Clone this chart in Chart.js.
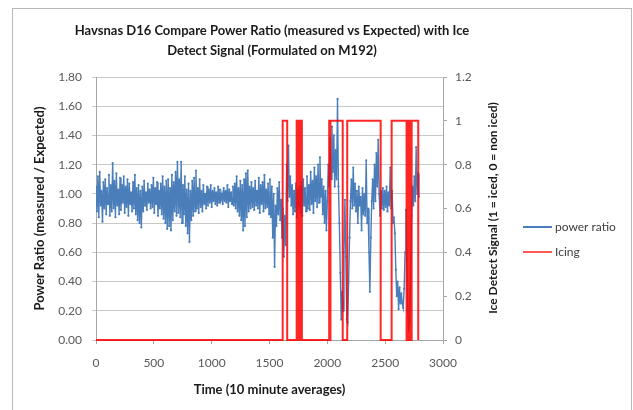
<!DOCTYPE html>
<html>
<head>
<meta charset="utf-8">
<script src="https://cdn.jsdelivr.net/npm/chart.js@4/dist/chart.umd.min.js"></script>
<style>
  html, body { margin: 0; padding: 0; background: #fff; }
  #frame { position: absolute; left: 12px; top: 8px; width: 620px; height: 420px; border: 1px solid #b8b8b8; box-sizing: border-box; }
  #c { position: absolute; left: 0; top: 0; }
</style>
</head>
<body>
<div id="frame"></div>
<canvas id="c" width="633" height="410"></canvas>
<script>
// ---- data ----
const chartTitle = ["Havsnas D16 Compare Power Ratio (measured vs Expected) with Ice", "Detect Signal (Formulated on M192)"];
const xAxisTitle = "Time (10 minute averages)";
const yAxisTitle = "Power Ratio (measured / Expected)";
const y2AxisTitle = "Ice Detect Signal (1 = iced, 0 = non iced)";
const seriesNames = ["power ratio", "Icing"];

// power ratio: one reading every 8 ten-minute samples
const sampleStep = 8;
const powerValues = [
  1.05,0.88,1.12,0.84,1.15,0.92,1.02,0.81,1.08,0.90,
  1.10,0.86,1.04,0.93,1.13,0.85,1.06,0.88,1.21,0.90,
  1.09,0.84,1.14,0.92,1.03,0.86,1.11,0.89,1.06,0.94,
  1.12,0.87,1.05,0.91,1.10,0.85,1.07,0.93,1.01,0.88,
  1.08,0.90,1.13,0.86,1.04,0.82,1.06,0.80,1.02,0.77,
  1.05,0.88,1.09,0.92,1.01,0.89,1.07,0.94,1.03,0.90,
  1.06,0.91,1.11,0.87,1.04,0.93,1.08,0.85,1.02,0.90,
  1.07,0.86,1.12,0.83,1.05,0.80,1.09,0.76,1.10,0.78,
  1.04,0.75,1.13,0.82,1.08,0.88,1.15,0.85,1.22,0.87,
  1.10,0.84,1.22,0.80,1.06,0.86,1.12,0.78,1.03,0.73,
  1.07,0.67,1.02,0.82,1.09,0.85,1.11,0.88,1.16,0.90,
  1.04,0.87,1.10,0.91,1.02,0.88,1.06,0.93,1.00,0.90,
  1.05,0.92,1.03,0.94,1.06,0.91,1.02,0.95,1.04,0.93,
  1.01,0.92,1.05,0.94,1.03,0.96,1.00,0.93,1.04,0.95,
  1.02,0.94,1.06,0.91,1.03,0.95,1.01,0.93,1.05,0.92,
  1.07,0.90,1.12,0.88,1.04,0.85,1.09,0.82,1.06,0.75,
  1.10,0.78,1.14,0.84,1.16,0.88,1.05,0.90,1.08,0.91,
  1.04,0.89,1.09,0.92,1.02,0.90,1.11,0.87,1.06,0.93,
  1.08,0.88,1.13,0.90,1.03,0.91,1.07,0.86,1.10,0.84,
  1.05,0.70,1.00,0.50,0.92,0.78,1.04,0.86,1.08,0.82,
  0.96,0.70,0.90,0.57,0.85,0.65,1.20,0.95,1.33,0.98,
  1.12,0.92,1.06,0.86,1.02,0.88,1.07,0.84,1.03,0.90,
  1.05,0.87,1.08,0.85,1.10,0.92,1.04,0.88,1.12,0.90,
  1.06,0.89,1.15,0.93,1.09,0.87,1.18,0.95,1.12,0.91,
  1.20,0.94,1.25,0.98,1.10,0.86,1.05,0.80,1.02,0.75,
  0.95,1.20,1.05,1.38,1.10,1.46,1.15,1.40,1.05,1.30,
  1.10,1.65,1.05,0.80,0.46,0.14,0.33,0.20,0.60,0.96,
  0.57,0.14,0.12,0.40,0.70,0.95,1.10,0.90,1.18,0.92,
  1.07,0.88,1.02,0.80,1.05,0.92,0.98,0.75,1.04,0.86,
  1.00,0.85,1.23,0.80,0.90,0.60,0.33,0.70,0.95,1.10,
  0.90,1.20,0.95,1.28,1.05,1.37,1.00,0.85,1.02,0.90,
  1.04,0.89,1.02,0.91,1.05,0.88,1.01,0.92,1.18,0.90,
  1.02,0.80,0.84,0.73,0.48,0.30,0.40,0.21,0.36,0.25,
  0.32,0.25,0.22,0.35,0.60,0.89,0.55,0.20,0.08,0.12,
  0.45,0.85,1.05,0.92,1.12,0.95,1.32,1.00,1.14,0.98
];

// icing signal: time at which it changes, and the value it changes to
const icingTimes  = [0, 1614, 1653, 1735, 1745, 1755, 1765, 1772, 1780, 2016, 2022, 2027, 2133, 2172, 2461, 2556, 2685, 2700, 2714, 2729, 2786];
const icingValues = [0,    1,    0,    1,    0,    1,    0,    1,    0,    1,    0,    1,    0,    1,    0,    1,    0,    1,    0,    1,    0];

const xTicks = [0, 500, 1000, 1500, 2000, 2500, 3000];
const yTicks = [0, 0.2, 0.4, 0.6, 0.8, 1.0, 1.2, 1.4, 1.6, 1.8];
const y2Ticks = [0, 0.2, 0.4, 0.6, 0.8, 1, 1.2];

// ---- chart ----
const FONT = "Lato, 'Open Sans', sans-serif";
const BLUE = '#4A7EBB';
const RED = 'rgba(255,0,0,0.85)';

const powerData = powerValues.map((v, i) => ({ x: i * sampleStep, y: v }));
const icingData = icingTimes.map((t, i) => ({ x: t, y: icingValues[i] }));

const decor = {
  id: 'decor',
  afterDraw(chart) {
    const ctx = chart.ctx;
    ctx.save();
    ctx.fillStyle = '#1a1a1a';
    ctx.font = "bold 13px " + FONT;
    ctx.textAlign = 'center';
    ctx.textBaseline = 'middle';
    ctx.fillText(chartTitle[0], 272, 31);
    ctx.fillText(chartTitle[1], 272, 51);
    ctx.save();
    ctx.translate(493, 208);
    ctx.rotate(-Math.PI / 2);
    ctx.font = "bold 12px " + FONT;
    ctx.fillText(y2AxisTitle, 0, 0);
    ctx.restore();
    const items = [
      { label: seriesNames[0], color: BLUE, y: 227 },
      { label: seriesNames[1], color: 'rgb(255,90,90)', y: 252 }
    ];
    ctx.font = "12px " + FONT;
    ctx.textAlign = 'left';
    items.forEach(it => {
      ctx.strokeStyle = it.color;
      ctx.lineWidth = 2;
      ctx.beginPath();
      ctx.moveTo(523, it.y);
      ctx.lineTo(552, it.y);
      ctx.stroke();
      ctx.fillStyle = '#404040';
      ctx.fillText(it.label, 555, it.y);
    });
    ctx.restore();
  }
};

new Chart(document.getElementById('c'), {
  type: 'line',
  data: {
    datasets: [
      {
        label: seriesNames[0],
        data: powerData,
        borderColor: BLUE,
        backgroundColor: BLUE,
        borderWidth: 1.4,
        pointRadius: 1.1,
        pointBorderWidth: 0,
        yAxisID: 'y',
        order: 2
      },
      {
        label: seriesNames[1],
        data: icingData,
        borderColor: RED,
        backgroundColor: RED,
        borderWidth: 2,
        pointRadius: 0,
        stepped: true,
        clip: 6,
        yAxisID: 'y2',
        order: 1
      }
    ]
  },
  options: {
    responsive: false,
    animation: false,
    devicePixelRatio: 1,
    layout: { padding: { top: 77, left: 0, right: 0, bottom: 0 } },
    plugins: { legend: { display: false }, title: { display: false }, tooltip: { enabled: false } },
    scales: {
      x: {
        type: 'linear',
        position: 'bottom',
        min: 0, max: 3000,
        afterBuildTicks: s => { s.ticks = xTicks.map(v => ({ value: v })); },
        afterFit: s => { s.height = 70; },
        grid: { drawOnChartArea: false, drawTicks: true, tickLength: 4, color: '#a6a6a6' },
        border: { color: '#a6a6a6' },
        ticks: { padding: 12, color: '#595959', font: { family: FONT, size: 12 }, callback: v => String(v), maxRotation: 0 },
        title: { display: true, text: xAxisTitle, color: '#1a1a1a', font: { family: FONT, size: 13, weight: 'bold' }, padding: { top: 0, bottom: 12 } }
      },
      y: {
        type: 'linear',
        position: 'left',
        min: 0, max: 1.8,
        afterBuildTicks: s => { s.ticks = yTicks.map(v => ({ value: v })); },
        afterFit: s => { s.width = 96; },
        grid: { color: '#c8c8c8', drawTicks: true, tickLength: 4 },
        border: { color: '#a6a6a6' },
        ticks: { padding: 10, color: '#595959', font: { family: FONT, size: 12 }, callback: v => v.toFixed(2) },
        title: { display: true, text: yAxisTitle, color: '#1a1a1a', font: { family: FONT, size: 13, weight: 'bold' }, padding: { top: 32, bottom: 0 } }
      },
      y2: {
        type: 'linear',
        position: 'right',
        min: 0, max: 1.2,
        afterBuildTicks: s => { s.ticks = y2Ticks.map(v => ({ value: v })); },
        afterFit: s => { s.width = 190; },
        grid: { drawOnChartArea: false, drawTicks: true, tickLength: 4, color: '#a6a6a6' },
        border: { color: '#a6a6a6' },
        ticks: { padding: 8, color: '#595959', font: { family: FONT, size: 12 }, callback: v => String(Math.round(v * 10) / 10) }
      }
    }
  },
  plugins: [decor]
});
</script>
</body>
</html>
